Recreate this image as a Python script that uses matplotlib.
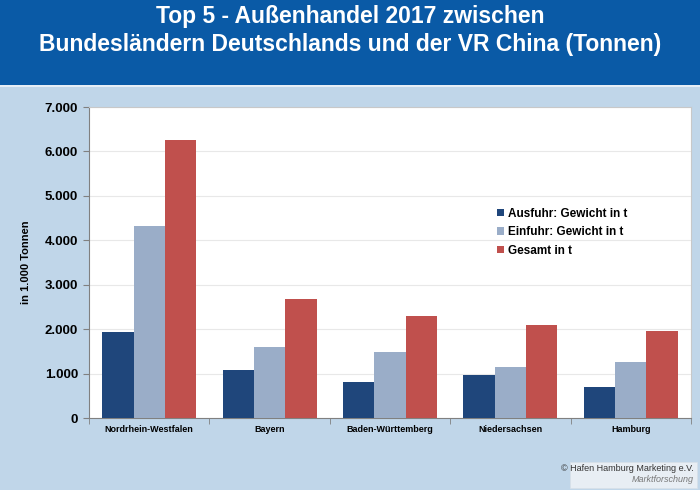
import numpy as np
import matplotlib.pyplot as plt
from matplotlib.patches import Rectangle
from matplotlib.ticker import FuncFormatter

plt.rcParams['font.family'] = ['Liberation Sans', 'DejaVu Sans']

# Werte in 1.000 Tonnen
laender = ['Nordrhein-Westfalen', 'Bayern', 'Baden-Württemberg', 'Niedersachsen', 'Hamburg']
ausfuhr = [1935, 1080, 810, 970, 700]
einfuhr = [4320, 1600, 1490, 1140, 1250]
gesamt = [6260, 2680, 2300, 2100, 1960]

serien = ['Ausfuhr: Gewicht in t', 'Einfuhr: Gewicht in t', 'Gesamt in t']
farben = ['#1f467b', '#9aadc8', '#c0504d']

fig = plt.figure(figsize=(7, 4.9), dpi=100)
fig.patch.set_facecolor('#c0d6e9')

# Titelband
fig.patches.append(Rectangle((0, 1 - 85 / 490), 1, 85 / 490, transform=fig.transFigure,
                             facecolor='#0a5aa6', edgecolor='none', zorder=0))
fig.patches.append(Rectangle((0, 1 - 87 / 490), 1, 2 / 490, transform=fig.transFigure,
                             facecolor='#e6eef6', edgecolor='none', zorder=0))
fig.text(0.5, 1 - 17 / 490, 'Top 5 - Außenhandel 2017 zwischen', ha='center', va='center',
         color='white', fontsize=16.5, fontweight='bold')
fig.text(0.5, 1 - 45 / 490, 'Bundesländern Deutschlands und der VR China (Tonnen)', ha='center',
         va='center', color='white', fontsize=16.5, fontweight='bold')

ax = fig.add_axes([89 / 700, 1 - 418 / 490, 602 / 700, 311 / 490])
ax.set_facecolor('white')

x = np.arange(len(laender))
w = 0.26
for i, (werte, name, farbe) in enumerate(zip([ausfuhr, einfuhr, gesamt], serien, farben)):
    ax.bar(x + (i - 1) * w, werte, width=w, color=farbe, label=name, zorder=3)

ax.set_xlim(-0.5, len(laender) - 0.5)
ax.set_ylim(0, 7000)
ax.set_yticks(np.arange(0, 7001, 1000))
ax.yaxis.set_major_formatter(FuncFormatter(lambda v, p: f'{int(v):,}'.replace(',', '.')))
ax.grid(axis='y', color='#e8e8e8', linewidth=0.8, zorder=0)
ax.set_xticks(x)
ax.set_xticklabels(laender, fontsize=6.5, fontweight='bold')
ax.set_xticks(np.arange(-0.5, len(laender)), minor=True)
ax.tick_params(axis='x', which='major', length=0, pad=5)
ax.tick_params(axis='x', which='minor', length=4, color='#808080')
ax.tick_params(axis='y', length=4, color='#808080', labelsize=9.5, pad=4)
for lbl in ax.get_yticklabels():
    lbl.set_fontweight('bold')
for side in ['left', 'bottom']:
    ax.spines[side].set_color('#808080')
for side in ['top', 'right']:
    ax.spines[side].set_color('#c8c8c8')

ax.set_ylabel('in 1.000 Tonnen', fontsize=8, fontweight='bold', labelpad=10)

ax.legend(loc='upper left', bbox_to_anchor=(0.66, 0.71), frameon=False,
          prop={'weight': 'bold', 'size': 8.5}, handlelength=0.6, handleheight=0.6,
          handletextpad=0.3, labelspacing=0.55)

# Quellenbox
fig.patches.append(Rectangle((570 / 700, 1 - 488 / 490), 127 / 700, 26 / 490,
                             transform=fig.transFigure, facecolor='#e8eef4',
                             edgecolor='#d8e0e8', linewidth=0.5))
fig.text(694 / 700, 1 - 468 / 490, '© Hafen Hamburg Marketing e.V.', ha='right', va='center',
         fontsize=6.5, color='#333333')
fig.text(694 / 700, 1 - 479 / 490, 'Marktforschung', ha='right', va='center',
         fontsize=6.5, color='#777777', style='italic')

fig.savefig('out.png', dpi=100, facecolor=fig.get_facecolor())
